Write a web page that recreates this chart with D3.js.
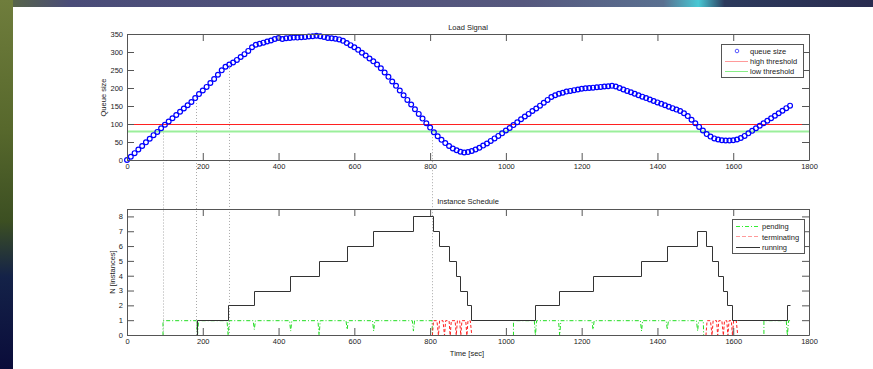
<!DOCTYPE html>
<html>
<head>
<meta charset="utf-8">
<script src="https://cdn.jsdelivr.net/npm/d3@7"></script>
<style>
  body { margin: 0; background: #fff; overflow: hidden; }
  svg text { font-family: "Liberation Sans", Arial, sans-serif; font-size: 7.5px; fill: #222; }
</style>
</head>
<body>
<script>
const width = 873, height = 369;

// queue size, one reading every 10 s starting at t = 0
const sampleStep = 10;
const queueSize = [
  0, 9, 19, 29, 39, 49, 59, 69, 78, 88,
  98, 107, 116, 125, 134, 143, 152, 161, 172, 183,
  193, 203, 214, 225, 237, 249, 259, 265, 271, 278,
  286, 294, 303, 313, 320, 323, 326, 329, 332, 336,
  339, 336, 338, 339, 340, 340, 341, 342, 343, 344,
  345, 344, 342, 339, 338, 337, 335, 331, 325, 319,
  313, 306, 298, 290, 282, 274, 265, 255, 243, 231,
  218, 206, 193, 180, 167, 154, 141, 128, 115, 102,
  90, 77, 66, 56, 47, 39, 32, 27, 23, 21,
  22, 25, 29, 34, 40, 46, 53, 60, 67, 74,
  82, 89, 97, 105, 113, 121, 128, 136, 143, 151,
  159, 167, 175, 180, 184, 187, 190, 192, 194, 196,
  198, 199, 200, 201, 202, 203, 204, 205, 206, 204,
  200, 196, 192, 188, 184, 180, 176, 172, 168, 164,
  160, 156, 152, 148, 144, 140, 136, 130, 122, 112,
  102, 92, 82, 72, 65, 60, 57, 55, 54, 54,
  55, 57, 61, 67, 74, 81, 88, 95, 102, 109,
  116, 123, 130, 137, 144, 151
];
const highThreshold = 100;
const lowThreshold = 80;

// instance schedule
const runningTimes  = [0, 185, 266, 335, 431, 506, 580, 650, 755, 807, 823, 851, 869, 879, 897, 907,
                       1077, 1141, 1229, 1357, 1425, 1505, 1527, 1545, 1560, 1572, 1584, 1596, 1609, 1742, 1750];
const runningCounts = [0, 1, 2, 3, 4, 5, 6, 7, 8, 7, 6, 5, 4, 3, 2, 1,
                       2, 3, 4, 5, 6, 7, 6, 5, 4, 3, 2, 1, 1, 2, 2];

const pendingTimes  = [95, 95, 183, 186, 189, 264, 267, 270, 333, 336, 339, 429, 432, 435, 504, 507, 510,
                       578, 581, 584, 648, 651, 654, 753, 756, 759, 805, 806,
                       1020, 1020, 1075, 1078, 1081, 1139, 1142, 1145, 1227, 1230, 1233, 1355, 1358, 1361,
                       1423, 1426, 1429, 1503, 1506, 1509, 1521, 1522, 1681, 1681, 1740, 1743, 1746, 1750];
const pendingValues = [0, 1, 1, 0, 1, 1, 0, 1, 1, 0.4, 1, 1, 0.3, 1, 1, 0, 1,
                       1, 0.4, 1, 1, 0.3, 1, 1, 0.3, 1, 1, 0,
                       0, 1, 1, 0, 1, 1, 0, 1, 1, 0.4, 1, 1, 0.3, 1,
                       1, 0.4, 1, 1, 0.3, 1, 1, 0, 0, 1, 1, 0, 1, 1];

// null = gap between the two scale-down phases
const terminatingTimes  = [806, 809, 818, 822, 825, 834, 838, 841, 850, 853, 856, 866, 869, 872, 878, 881, 884, 894, 897, 900, 906, 910,
                           1200,
                           1528, 1531, 1540, 1544, 1547, 1556, 1559, 1562, 1570, 1574, 1577, 1583, 1586, 1589, 1595, 1598, 1601, 1608, 1612];
const terminatingValues = [0, 1, 1, 0, 1, 1, 0, 1, 1, 0, 1, 1, 0, 1, 1, 0, 1, 1, 0, 1, 1, 0,
                           null,
                           0, 1, 1, 0, 1, 1, 0, 1, 1, 0, 1, 1, 0, 1, 1, 0, 1, 1, 0];

// dotted guides: time and queue level where they start
const guideTimes  = [95, 183, 269, 806];
const guideLevels = [93, 175, 264, 80];

const xTicks = d3.range(0, 1801, 200);
const queueTicks = d3.range(0, 351, 50);
const instanceTicks = d3.range(0, 9, 1);

const svg = d3.select("body").append("svg")
    .attr("width", width)
    .attr("height", height);

// slide background around the figure
const defs = svg.append("defs");
const lg = defs.append("linearGradient").attr("id", "leftStrip").attr("x1", 0).attr("y1", 0).attr("x2", 0).attr("y2", 1);
lg.append("stop").attr("offset", "0%").attr("stop-color", "#6f7d3c");
lg.append("stop").attr("offset", "35%").attr("stop-color", "#57682c");
lg.append("stop").attr("offset", "60%").attr("stop-color", "#3c4f22");
lg.append("stop").attr("offset", "75%").attr("stop-color", "#142248");
lg.append("stop").attr("offset", "100%").attr("stop-color", "#0a0c3a");
const tg = defs.append("linearGradient").attr("id", "topStrip");
tg.append("stop").attr("offset", "0%").attr("stop-color", "#5a6a40");
tg.append("stop").attr("offset", "8%").attr("stop-color", "#4a4c78");
tg.append("stop").attr("offset", "60%").attr("stop-color", "#56587e");
tg.append("stop").attr("offset", "76%").attr("stop-color", "#5a7090");
tg.append("stop").attr("offset", "80%").attr("stop-color", "#48c8d4");
tg.append("stop").attr("offset", "83%").attr("stop-color", "#2c3a5c");
tg.append("stop").attr("offset", "100%").attr("stop-color", "#2a2c50");

svg.append("rect").attr("width", width).attr("height", height).attr("fill", "#fff");
svg.append("rect").attr("width", width).attr("height", 7).attr("fill", "url(#topStrip)");
svg.append("rect").attr("width", 13).attr("height", height).attr("fill", "url(#leftStrip)");

const x = d3.scaleLinear().domain([0, 1800]).range([127, 809]);
const yTop = d3.scaleLinear().domain([0, 350]).range([160, 34]);
const yBot = d3.scaleLinear().domain([0, 8.5]).range([335, 209]);
const fmt = d3.format("d");

function drawFrame(y, ticks, top, bottom) {
    const g = svg.append("g").attr("class", "frame");
    g.append("g").attr("transform", `translate(0,${bottom})`)
        .call(d3.axisBottom(x).tickValues(xTicks).tickFormat(fmt).tickSizeInner(-7).tickSizeOuter(0).tickPadding(3.5));
    g.append("g").attr("transform", `translate(0,${top})`)
        .call(d3.axisTop(x).tickValues(xTicks).tickSizeInner(-7).tickSizeOuter(0).tickFormat(""));
    g.append("g").attr("transform", `translate(${x.range()[0]},0)`)
        .call(d3.axisLeft(y).tickValues(ticks).tickFormat(fmt).tickSizeInner(-7).tickSizeOuter(0).tickPadding(4));
    g.append("g").attr("transform", `translate(${x.range()[1]},0)`)
        .call(d3.axisRight(y).tickValues(ticks).tickSizeInner(-7).tickSizeOuter(0).tickFormat(""));
    g.selectAll(".domain, .tick line").attr("stroke", "#555");
    g.selectAll(".tick text").style("font-size", "7.5px").attr("fill", "#333");
    return g;
}

const snap = v => Math.round(v) + 0.5;

// dotted guides (drawn first, under the data)
svg.append("g")
    .selectAll("line")
    .data(guideTimes)
    .join("line")
    .attr("x1", d => snap(x(d)))
    .attr("x2", d => snap(x(d)))
    .attr("y1", (d, i) => yTop(guideLevels[i]))
    .attr("y2", yBot(0))
    .attr("stroke", "#aaa")
    .attr("stroke-dasharray", "1,2");

// ---- top: load signal
svg.append("line")
    .attr("x1", x(0)).attr("x2", x(1800))
    .attr("y1", snap(yTop(lowThreshold))).attr("y2", snap(yTop(lowThreshold)))
    .attr("stroke", "#9bef9b").attr("stroke-width", 2);
svg.append("line")
    .attr("x1", x(0)).attr("x2", x(1800))
    .attr("y1", snap(yTop(highThreshold))).attr("y2", snap(yTop(highThreshold)))
    .attr("stroke", "#ff2020").attr("stroke-width", 1);

svg.append("g")
    .selectAll("circle")
    .data(queueSize)
    .join("circle")
    .attr("cx", (d, i) => x(i * sampleStep))
    .attr("cy", d => yTop(d))
    .attr("r", 2.4)
    .attr("fill", "none")
    .attr("stroke", "#0000ff")
    .attr("stroke-width", 1.2);

drawFrame(yTop, queueTicks, 34, 160);

svg.append("text").attr("x", 468).attr("y", 29.5).attr("text-anchor", "middle").text("Load Signal");
svg.append("text").attr("transform", "translate(105.5,97.5) rotate(-90)").attr("text-anchor", "middle").text("Queue size");

// legend top
const lt = svg.append("g").attr("transform", "translate(721,44)");
lt.append("rect").attr("x", 0.5).attr("y", 0.5).attr("width", 82).attr("height", 33)
    .attr("fill", "#fff").attr("stroke", "#555");
lt.append("circle").attr("cx", 16).attr("cy", 7).attr("r", 1.8).attr("fill", "none").attr("stroke", "#5555ff");
lt.append("line").attr("x1", 4).attr("x2", 27).attr("y1", 17.5).attr("y2", 17.5).attr("stroke", "#ff9a9a");
lt.append("line").attr("x1", 4).attr("x2", 27).attr("y1", 27.5).attr("y2", 27.5).attr("stroke", "#88ee88");
["queue size", "high threshold", "low threshold"].forEach((t, i) => {
    lt.append("text").attr("x", 29).attr("y", 9.5 + i * 10).text(t);
});

// ---- bottom: instance schedule
const seriesLine = d3.line()
    .defined(d => d[1] != null)
    .x(d => x(d[0]))
    .y(d => Math.min(yBot(d[1]), 335.5));

svg.append("path")
    .datum(pendingTimes.map((t, i) => [t, pendingValues[i]]))
    .attr("d", seriesLine)
    .attr("transform", "translate(0,0.5)")
    .attr("fill", "none").attr("stroke", "#22dd22").attr("stroke-width", 1)
    .attr("stroke-dasharray", "4,2,1,2");

svg.append("path")
    .datum(terminatingTimes.map((t, i) => [t, terminatingValues[i]]))
    .attr("d", seriesLine)
    .attr("transform", "translate(0,0.5)")
    .attr("fill", "none").attr("stroke", "#ff2020").attr("stroke-width", 1)
    .attr("stroke-dasharray", "3,2");

svg.append("path")
    .datum(runningTimes.map((t, i) => [t, runningCounts[i]]))
    .attr("d", d3.line().x(d => snap(x(d[0]))).y(d => snap(yBot(d[1]))).curve(d3.curveStepAfter))
    .attr("fill", "none").attr("stroke", "#333").attr("stroke-width", 1);

drawFrame(yBot, instanceTicks, 209, 335);

svg.append("text").attr("x", 468).attr("y", 204).attr("text-anchor", "middle").text("Instance Schedule");
svg.append("text").attr("x", 467).attr("y", 356).attr("text-anchor", "middle").text("Time [sec]");
svg.append("text").attr("transform", "translate(115,272) rotate(-90)").attr("text-anchor", "middle").text("N [instances]");

// legend bottom
const lb = svg.append("g").attr("transform", "translate(732,219)");
lb.append("rect").attr("x", 0.5).attr("y", 0.5).attr("width", 72).attr("height", 34)
    .attr("fill", "#fff").attr("stroke", "#555");
lb.append("line").attr("x1", 4).attr("x2", 28).attr("y1", 7.5).attr("y2", 7.5)
    .attr("stroke", "#33ee33").attr("stroke-dasharray", "4,2,1,2");
lb.append("line").attr("x1", 4).attr("x2", 28).attr("y1", 17.5).attr("y2", 17.5)
    .attr("stroke", "#ff9a9a").attr("stroke-dasharray", "4,2");
lb.append("line").attr("x1", 4).attr("x2", 28).attr("y1", 28.5).attr("y2", 28.5)
    .attr("stroke", "#333");
["pending", "terminating", "running"].forEach((t, i) => {
    lb.append("text").attr("x", 30).attr("y", 10 + i * 10.5).text(t);
});
</script>
</body>
</html>
